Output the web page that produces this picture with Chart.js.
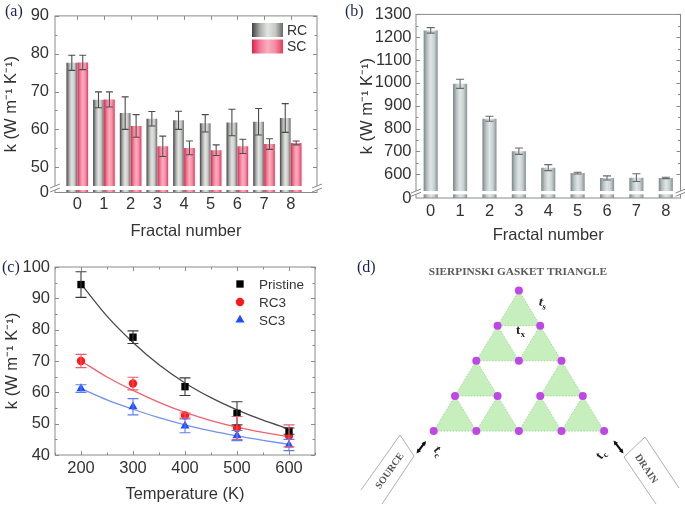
<!DOCTYPE html>
<html>
<head>
<meta charset="utf-8">
<script src="https://cdn.jsdelivr.net/npm/chart.js@4.4.1/dist/chart.umd.min.js"></script>
<style>
  body { margin: 0; background: #fff; width: 685px; height: 505px; position: relative; overflow: hidden; }
  canvas { position: absolute; }
</style>
</head>
<body>
<canvas id="chartA" width="340" height="250" style="left:0;top:0"></canvas>
<canvas id="chartB" width="345" height="250" style="left:340px;top:0"></canvas>
<canvas id="chartC" width="340" height="255" style="left:0;top:250px"></canvas>
<canvas id="chartD" width="345" height="255" style="left:340px;top:250px"></canvas>
<script>
// (a) RC / SC thermal conductivity vs fractal number
const fractalNumbers = [0, 1, 2, 3, 4, 5, 6, 7, 8];
const rcValues = [77.6, 67.8, 64.3, 62.8, 62.4, 61.6, 61.8, 62.0, 63.0];
const rcErrors = [2.0, 2.1, 4.3, 1.9, 2.4, 2.3, 3.5, 3.5, 3.8];
const scValues = [77.7, 67.9, 60.9, 55.5, 55.1, 54.5, 55.5, 56.1, 56.4];
const scErrors = [1.9, 2.0, 3.0, 2.7, 1.8, 1.4, 1.9, 1.4, 0.5];
const kTicksA = [50, 60, 70, 80, 90];

// (b) bars vs fractal number
const barValuesB = [1230, 996, 843, 701, 629, 605, 584, 585, 584];
const barErrorsB = [12, 20, 11, 14, 13, 4, 9, 17, 3];
const kTicksB = [600, 700, 800, 900, 1000, 1100, 1200, 1300];

// (c) k vs temperature
const temperatures = [200, 300, 400, 500, 600];
const pristineK = [94.4, 77.6, 61.8, 53.3, 47.6];
const pristineErr = [4.1, 2.0, 2.8, 3.7, 1.0];
const rc3K = [70.0, 62.8, 52.6, 48.6, 46.1];
const rc3Err = [2.1, 2.0, 0.8, 3.7, 3.5];
const sc3K = [61.2, 55.4, 49.3, 46.2, 43.2];
const sc3Err = [1.2, 2.6, 2.2, 1.6, 1.8];
const fitTemps = [200, 250, 300, 350, 400, 450, 500, 550, 600];
const pristineFit = [94.6, 84.3, 75.9, 68.8, 63.0, 58.3, 54.4, 51.1, 48.3];
const rc3Fit = [70.0, 64.9, 60.6, 56.8, 53.6, 51.0, 48.9, 47.2, 45.8];
const sc3Fit = [61.2, 57.6, 54.6, 51.9, 49.6, 47.7, 46.1, 44.7, 43.4];
const tempTicks = [200, 300, 400, 500, 600];
const kTicksC = [40, 50, 60, 70, 80, 90, 100];

// (d) gasket lattice: nodes and the filled (upward) cells by apex
const nodeX = [0, -1, 1, -2, 0, 2, -3, -1, 1, 3, -4, -2, 0, 2, 4];
const nodeY = [4, 3, 3, 2, 2, 2, 1, 1, 1, 1, 0, 0, 0, 0, 0];
const cellApexX = [0, -1, 1, -2, -3, -1, 2, 1, 3];
const cellApexY = [4, 3, 3, 2, 1, 1, 2, 1, 1];

const FONT = '"Liberation Sans", Arial, sans-serif';
const SERIF = '"Liberation Serif", "DejaVu Serif", serif';
const TEXT = '#333';
const FRAME = '#8a8a8a';
const grayShade = ['#404040', '#a9aba9', '#e2e5e2', '#c6c9c6', '#686868'];
const pinkShade = ['#e0204a', '#f07a96', '#f7b0c0', '#f48ca4', '#e53a5a'];
const steelShade = ['#7b8585', '#b9c3c3', '#e0e6e6', '#c8d0d0', '#869090'];

Chart.defaults.font.family = FONT;
Chart.defaults.color = TEXT;
Chart.defaults.animation = false;

const tickFont = { family: FONT, size: 16.5 };
const titleFont = { family: FONT, size: 16.5 };
const kTitle = 'k (W m\u207B\u00B9 K\u207B\u00B9)';

const midpoints = (arr) => arr.slice(1).map((v, i) => (v + arr[i]) / 2);

// bar shading like a cylinder
const cylinderPlugin = {
  id: 'cylinder',
  beforeDatasetDraw(chart, args) {
    const ds = chart.data.datasets[args.index];
    if (!ds.shade) return;
    const ctx = chart.ctx;
    args.meta.data.forEach((el) => {
      const half = el.width / 2;
      const g = ctx.createLinearGradient(el.x - half, 0, el.x + half, 0);
      ds.shade.forEach((c, i) => g.addColorStop(i / (ds.shade.length - 1), c));
      el.options = Object.assign({}, el.options, { backgroundColor: g });
    });
  },
};

const errorBarPlugin = {
  id: 'errorBars',
  afterDatasetsDraw(chart) {
    const ctx = chart.ctx;
    chart.data.datasets.forEach((ds, i) => {
      if (!ds.errors) return;
      const meta = chart.getDatasetMeta(i);
      const yScale = chart.scales[meta.yAxisID];
      ctx.save();
      ctx.strokeStyle = ds.errorColor;
      ctx.lineWidth = 1.1;
      meta.data.forEach((el, j) => {
        const v = meta.controller.getParsed(j).y;
        const top = yScale.getPixelForValue(v + ds.errors[j]);
        const bot = yScale.getPixelForValue(v - ds.errors[j]);
        const w = ds.capWidth / 2;
        ctx.beginPath();
        ctx.moveTo(el.x, top);
        ctx.lineTo(el.x, bot);
        ctx.moveTo(el.x - w, top);
        ctx.lineTo(el.x + w, top);
        ctx.moveTo(el.x - w, bot);
        ctx.lineTo(el.x + w, bot);
        ctx.stroke();
      });
      ctx.restore();
    });
  },
};

// box around the plot with inward ticks
const framePlugin = {
  id: 'frame',
  afterDatasetsDraw(chart, args, opts) {
    if (!opts.show) return;
    const { ctx, chartArea: a, scales } = chart;
    ctx.save();
    ctx.strokeStyle = FRAME;
    ctx.lineWidth = 1;
    ctx.strokeRect(a.left, a.top, a.right - a.left, a.bottom - a.top);
    const xt = (vals, len) => vals.forEach((v) => {
      const x = Math.round(scales.x.getPixelForValue(v)) + 0.5;
      ctx.beginPath();
      ctx.moveTo(x, a.bottom); ctx.lineTo(x, a.bottom - len);
      ctx.moveTo(x, a.top); ctx.lineTo(x, a.top + len);
      ctx.stroke();
    });
    const yt = (vals, len) => vals.forEach((v) => {
      const y = Math.round(scales.y.getPixelForValue(v)) + 0.5;
      ctx.beginPath();
      ctx.moveTo(a.left, y); ctx.lineTo(a.left + len, y);
      ctx.moveTo(a.right, y); ctx.lineTo(a.right - len, y);
      ctx.stroke();
    });
    xt(opts.xMajor || [], 4);
    xt(opts.xMinor || [], 2.5);
    yt(opts.yMajor || [], 4);
    yt(opts.yMinor || [], 2.5);
    ctx.restore();
  },
  afterDraw(chart, args, opts) {
    const { ctx, chartArea: a } = chart;
    if (opts.gap) {
      const y1 = a.bottom - opts.gap[0];
      const y2 = a.bottom - opts.gap[1];
      ctx.save();
      ctx.fillStyle = '#fff';
      ctx.fillRect(a.left - 4, y1, a.right - a.left + 8, y2 - y1);
      ctx.strokeStyle = FRAME;
      ctx.lineWidth = 1;
      [a.left, a.right].forEach((x) => {
        [y1, y2].forEach((y) => {
          ctx.beginPath();
          ctx.moveTo(x - 5, y + 2);
          ctx.lineTo(x + 5, y - 2);
          ctx.stroke();
        });
      });
      ctx.restore();
    }
    if (opts.panel) {
      ctx.save();
      ctx.font = '16px ' + SERIF;
      ctx.fillStyle = '#1c2250';
      ctx.textBaseline = 'alphabetic';
      ctx.fillText(opts.panel[0], opts.panel[1], opts.panel[2]);
      ctx.restore();
    }
  },
};

// legend with shaded swatches for (a)
const swatchLegendPlugin = {
  id: 'swatchLegend',
  afterDraw(chart, args, opts) {
    if (!opts.items) return;
    const ctx = chart.ctx;
    ctx.save();
    opts.items.forEach((it, i) => {
      const y = opts.y + i * opts.step;
      const g = ctx.createLinearGradient(opts.x, 0, opts.x + opts.w, 0);
      it.shade.forEach((c, k) => g.addColorStop(k / (it.shade.length - 1), c));
      ctx.fillStyle = g;
      ctx.fillRect(opts.x, y - opts.h / 2, opts.w, opts.h);
      ctx.fillStyle = TEXT;
      ctx.font = '14px ' + FONT;
      ctx.textBaseline = 'middle';
      ctx.fillText(it.label, opts.x + opts.w + 4, y + 1);
    });
    ctx.restore();
  },
};

// legend with point markers for (c)
const markerLegendPlugin = {
  id: 'markerLegend',
  afterDraw(chart, args, opts) {
    if (!opts.show) return;
    const ctx = chart.ctx;
    ctx.save();
    chart.data.datasets.filter((d) => d.errors).forEach((ds, i) => {
      const y = opts.y + i * opts.step;
      ctx.fillStyle = ds.pointBackgroundColor;
      ctx.strokeStyle = ds.pointBackgroundColor;
      Chart.helpers.drawPoint(ctx, { pointStyle: ds.pointStyle, radius: ds.pointRadius, rotation: 0, borderWidth: 0 }, opts.x, y);
      ctx.fillStyle = TEXT;
      ctx.font = '13.5px ' + FONT;
      ctx.textBaseline = 'middle';
      ctx.fillText(ds.label, opts.x + 19, y + 1);
    });
    ctx.restore();
  },
};

Chart.register(cylinderPlugin, errorBarPlugin, framePlugin, swatchLegendPlugin, markerLegendPlugin);

const axisBase = (title, size, pad) => ({
  grid: { display: false, drawTicks: false },
  border: { display: false },
  title: { display: true, text: title, font: titleFont, color: TEXT, padding: pad },
  afterFit: (s) => { if (s.isHorizontal()) s.height = size; else s.width = size; },
});

// ---- (a)
new Chart(document.getElementById('chartA'), {
  type: 'bar',
  data: {
    datasets: [
      {
        label: 'RC',
        data: fractalNumbers.map((f, i) => ({ x: f, y: rcValues[i] })),
        backgroundColor: '#b0b2b0',
        shade: grayShade,
        errors: rcErrors,
        errorColor: '#4a4a4a',
        capWidth: 7,
        barPercentage: 0.98,
        categoryPercentage: 0.82,
      },
      {
        label: 'SC',
        data: fractalNumbers.map((f, i) => ({ x: f, y: scValues[i] })),
        backgroundColor: '#f08aa0',
        shade: pinkShade,
        errors: scErrors,
        errorColor: '#505050',
        capWidth: 7,
        barPercentage: 0.98,
        categoryPercentage: 0.82,
      },
    ],
  },
  options: {
    responsive: false,
    events: [],
    layout: { padding: { left: 0, right: 23, top: 13, bottom: 0 } },
    plugins: {
      legend: { display: false },
      tooltip: { enabled: false },
      frame: {
        show: true,
        xMajor: fractalNumbers,
        yMajor: kTicksA,
        yMinor: midpoints(kTicksA),
        gap: [6.5, 2.5],
        panel: ['(a)', 5, 16],
      },
      swatchLegend: {
        x: 252, y: 30, step: 16.5, w: 31, h: 14,
        items: [{ label: 'RC', shade: grayShade }, { label: 'SC', shade: pinkShade }],
      },
    },
    scales: {
      x: Object.assign(axisBase('Fractal number', 57.5, { top: 0, bottom: 8.5 }), {
        type: 'linear',
        offset: false,
        min: -0.835,
        max: 8.985,
        afterBuildTicks: (s) => { s.ticks = fractalNumbers.map((v) => ({ value: v })); },
        ticks: { font: tickFont, color: TEXT, padding: 2, autoSkip: false, maxRotation: 0 },
      }),
      y: Object.assign(axisBase(kTitle, 55, { top: 2, bottom: 0 }), {
        min: 43.3,
        max: 90,
        afterBuildTicks: (s) => { s.ticks = [{ value: 43.3 }].concat(kTicksA.map((v) => ({ value: v }))); },
        ticks: { font: tickFont, color: TEXT, padding: 6, autoSkip: false, callback: (v, i) => (i === 0 ? '0' : v) },
      }),
    },
  },
});

// ---- (b)
new Chart(document.getElementById('chartB'), {
  type: 'bar',
  data: {
    labels: fractalNumbers,
    datasets: [
      {
        label: 'k',
        data: barValuesB,
        backgroundColor: '#c4cccc',
        shade: steelShade,
        errors: barErrorsB,
        errorColor: '#6a6a6a',
        capWidth: 8,
        barPercentage: 0.96,
        categoryPercentage: 0.5,
      },
    ],
  },
  options: {
    responsive: false,
    events: [],
    layout: { padding: { left: 0, right: 4.5, top: 9, bottom: 0 } },
    plugins: {
      legend: { display: false },
      tooltip: { enabled: false },
      frame: {
        show: true,
        yMajor: kTicksB,
        yMinor: midpoints(kTicksB),
        gap: [7, 3.7],
        panel: ['(b)', 5, 16],
      },
    },
    scales: {
      x: Object.assign(axisBase('Fractal number', 52, { top: 0, bottom: 4.5 }), {
        ticks: { font: tickFont, color: TEXT, padding: 4, autoSkip: false, maxRotation: 0 },
      }),
      y: Object.assign(axisBase(kTitle, 76, { top: 17.6, bottom: 0 }), {
        min: 496,
        max: 1300,
        afterBuildTicks: (s) => { s.ticks = [{ value: 496 }].concat(kTicksB.map((v) => ({ value: v }))); },
        ticks: { font: tickFont, color: TEXT, padding: 4.5, autoSkip: false, callback: (v, i) => (i === 0 ? '0' : v) },
      }),
    },
  },
});

// ---- (c)
const pts = (xs, ys) => xs.map((x, i) => ({ x: x, y: ys[i] }));
const markerSet = (label, ys, errs, color, style, radius, errColor) => ({
  type: 'scatter',
  label: label,
  data: pts(temperatures, ys),
  pointStyle: style,
  pointRadius: radius,
  pointBackgroundColor: color,
  pointBorderColor: color,
  pointBorderWidth: 0,
  errors: errs,
  errorColor: errColor,
  capWidth: 11,
  order: 0,
});
const fitSet = (ys, color) => ({
  type: 'line',
  data: pts(fitTemps, ys),
  borderColor: color,
  borderWidth: 1.3,
  pointRadius: 0,
  cubicInterpolationMode: 'monotone',
  fill: false,
  order: 1,
});

new Chart(document.getElementById('chartC'), {
  type: 'scatter',
  data: {
    datasets: [
      markerSet('Pristine', pristineK, pristineErr, '#000000', 'rect', 5.2, '#3a3a3a'),
      markerSet('RC3', rc3K, rc3Err, '#ff1a1a', 'circle', 4.2, '#f05a6a'),
      markerSet('SC3', sc3K, sc3Err, '#1f4dff', 'triangle', 5.2, '#5a7ef5'),
      fitSet(pristineFit, '#4a4a4a'),
      fitSet(rc3Fit, '#f2606e'),
      fitSet(sc3Fit, '#7390f2'),
    ],
  },
  options: {
    responsive: false,
    events: [],
    layout: { padding: { left: 0, right: 25, top: 17, bottom: 0 } },
    plugins: {
      legend: { display: false },
      tooltip: { enabled: false },
      frame: {
        show: true,
        xMajor: tempTicks,
        xMinor: midpoints(tempTicks).concat([150, 650]),
        yMajor: kTicksC,
        yMinor: midpoints(kTicksC),
        panel: ['(c)', 2, 22],
      },
      markerLegend: { show: true, x: 240, y: 34, step: 18 },
    },
    scales: {
      x: Object.assign(axisBase('Temperature (K)', 50, { top: 0, bottom: 0.5 }), {
        type: 'linear',
        min: 150,
        max: 650,
        afterBuildTicks: (s) => { s.ticks = tempTicks.map((v) => ({ value: v })); },
        ticks: { font: tickFont, color: TEXT, padding: 3.5, autoSkip: false, maxRotation: 0 },
      }),
      y: Object.assign(axisBase(kTitle, 55, { top: 3, bottom: 0 }), {
        min: 40,
        max: 100,
        afterBuildTicks: (s) => { s.ticks = kTicksC.map((v) => ({ value: v })); },
        ticks: { font: tickFont, color: TEXT, padding: 5, autoSkip: false },
      }),
    },
  },
});

// ---- (d)
const subText = (ctx, main, sub, x, y, rot) => {
  ctx.save();
  ctx.translate(x, y);
  ctx.rotate(rot || 0);
  ctx.font = 'bold 13px ' + SERIF;
  ctx.fillText(main, 0, 0);
  const w = ctx.measureText(main).width;
  ctx.font = 'bold 8.5px ' + SERIF;
  ctx.fillText(sub, w + 0.5, 3);
  ctx.restore();
};
const arrow = (ctx, x1, y1, x2, y2) => {
  const ang = Math.atan2(y2 - y1, x2 - x1);
  const head = (x, y, a) => {
    ctx.beginPath();
    ctx.moveTo(x, y);
    ctx.lineTo(x - 5 * Math.cos(a - 0.45), y - 5 * Math.sin(a - 0.45));
    ctx.lineTo(x - 5 * Math.cos(a + 0.45), y - 5 * Math.sin(a + 0.45));
    ctx.closePath();
    ctx.fill();
  };
  ctx.beginPath();
  ctx.moveTo(x1 + 2 * Math.cos(ang), y1 + 2 * Math.sin(ang));
  ctx.lineTo(x2 - 2 * Math.cos(ang), y2 - 2 * Math.sin(ang));
  ctx.stroke();
  head(x2, y2, ang);
  head(x1, y1, ang + Math.PI);
};

const gasketNotes = {
  id: 'gasketNotes',
  afterDraw(chart, args, opts) {
    if (!opts.show) return;
    const ctx = chart.ctx;
    ctx.save();
    ctx.fillStyle = '#5a5a5a';
    ctx.font = 'bold 11.3px ' + SERIF;
    ctx.textAlign = 'center';
    ctx.textBaseline = 'middle';
    ctx.fillText('SIERPINSKI GASKET TRIANGLE', 178, 22.5);

    ctx.textAlign = 'left';
    ctx.textBaseline = 'alphabetic';
    ctx.fillStyle = '#222';
    subText(ctx, 't', 's', 198, 55, 0.25);
    subText(ctx, 't', 'x', 176, 84);
    subText(ctx, 't', 'c', 93, 200, 0.9);
    subText(ctx, 't', 'c', 261, 210, -0.9);

    ctx.strokeStyle = '#111';
    ctx.fillStyle = '#111';
    ctx.lineWidth = 2.2;
    arrow(ctx, 86, 191, 76.5, 203.5);
    arrow(ctx, 273.5, 190.5, 283.5, 203.5);

    ctx.strokeStyle = '#9a9a9a';
    ctx.lineWidth = 0.8;
    ctx.beginPath();
    ctx.moveTo(21, 240); ctx.lineTo(60, 185); ctx.lineTo(74, 206); ctx.lineTo(42, 254);
    ctx.moveTo(339, 238); ctx.lineTo(305, 187); ctx.lineTo(284, 207); ctx.lineTo(316, 254);
    ctx.stroke();

    ctx.fillStyle = '#555';
    ctx.font = 'bold 10px ' + SERIF;
    ctx.textAlign = 'center';
    ctx.textBaseline = 'middle';
    ctx.save();
    ctx.translate(50, 221);
    ctx.rotate(-0.955);
    ctx.fillText('SOURCE', 0, 0);
    ctx.restore();
    ctx.save();
    ctx.translate(306, 219);
    ctx.rotate(0.985);
    ctx.fillText('DRAIN', 0, 0);
    ctx.restore();

    ctx.font = '16px ' + SERIF;
    ctx.fillStyle = '#1c2250';
    ctx.textAlign = 'left';
    ctx.textBaseline = 'alphabetic';
    ctx.fillText('(d)', 17, 22);
    ctx.restore();
  },
};

const cellSets = cellApexX.map((ax, i) => {
  const ay = cellApexY[i];
  return {
    type: 'line',
    data: [
      { x: ax, y: ay },
      { x: ax - 1, y: ay - 1 },
      { x: ax + 1, y: ay - 1 },
      { x: ax, y: ay },
    ],
    borderColor: '#a6d99c',
    borderWidth: 1,
    borderDash: [1.5, 1.5],
    backgroundColor: '#c6efbd',
    fill: 'shape',
    pointRadius: 0,
    tension: 0,
    order: 1,
  };
});

new Chart(document.getElementById('chartD'), {
  type: 'line',
  data: {
    datasets: [
      {
        type: 'scatter',
        data: nodeX.map((x, i) => ({ x: x, y: nodeY[i] })),
        pointRadius: 4,
        pointBackgroundColor: '#c146ea',
        pointBorderWidth: 0,
        order: 0,
      },
    ].concat(cellSets),
  },
  options: {
    responsive: false,
    events: [],
    layout: { padding: 0 },
    plugins: {
      legend: { display: false },
      tooltip: { enabled: false },
      gasketNotes: { show: true },
    },
    scales: {
      x: { type: 'linear', display: false, min: -8.21, max: 7.61 },
      y: { type: 'linear', display: false, min: -1.99, max: 5.04 },
    },
  },
  plugins: [gasketNotes],
});
</script>
</body>
</html>
